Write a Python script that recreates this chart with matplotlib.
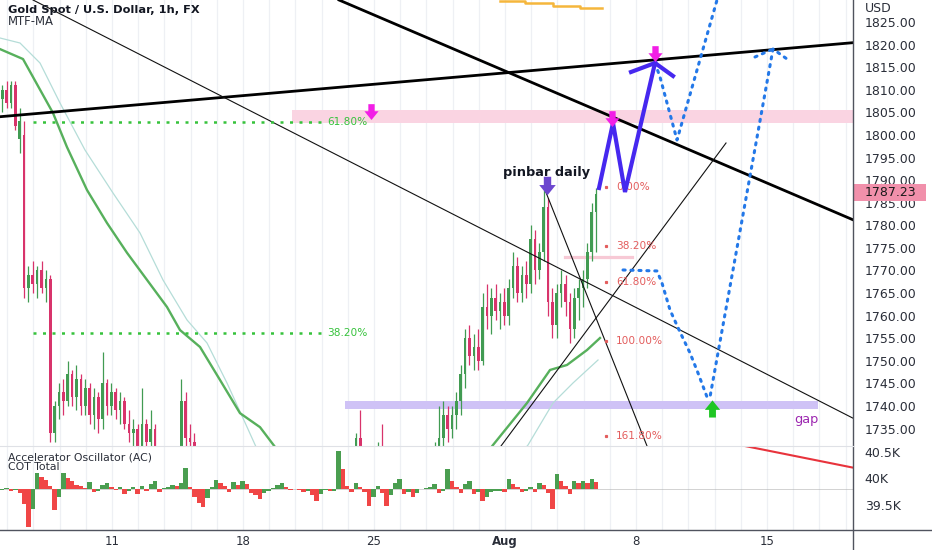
import numpy as np
import matplotlib
matplotlib.use("Agg")
import matplotlib.pyplot as plt
from matplotlib.path import Path
from matplotlib.patches import Rectangle
from matplotlib.lines import Line2D
import matplotlib.transforms as mtrans

# ---------------- data ----------------
# x axis: trading-day index, day 0 = Mon 11 Jul (4h bars, 6 per day)
bar_start = -4.19
bar_step = 1 / 6
opens = [1808,1810,1807,1811,1799,1800,1766,1769,1767,1770,1766,1768,1734,1740,1743,1741,1747,1742,1746,1740,
         1744,1738,1742,1737,1745,1740,1743,1739,1741,1736,1734,1735,1731,1736,1732,1735,1729,1726,1724,1723,
         1721,1719,1741,1733,1732,1726,1718,1710,1702,1705,1707,1709,1706,1708,1710,1714,1718,1715,1711,1708,
         1704,1706,1701,1698,1693,1688,1684,1688,1695,1703,1710,1717,1722,1725,1727,1720,1716,1718,1719,1722,
         1720,1724,1733,1726,1721,1719,1717,1730,1723,1719,1716,1718,1715,1717,1720,1718,1721,1723,1725,1728,
         1731,1733,1738,1735,1738,1741,1747,1755,1751,1753,1750,1762,1760,1764,1761,1763,1760,1766,1771,1765,
         1769,1767,1777,1770,1774,1784,1763,1758,1765,1767,1763,1757,1764,1766,1768,1774,1783]
highs = [1811,1812,1812,1812,1806,1803,1771,1772,1771,1772,1770,1769,1741,1745,1746,1750,1748,1749,1747,1746,
         1745,1744,1743,1752,1746,1745,1744,1743,1742,1739,1737,1736,1744,1737,1739,1736,1731,1729,1728,1727,
         1725,1746,1743,1736,1734,1728,1722,1713,1708,1710,1712,1714,1711,1713,1716,1720,1723,1719,1714,1712,
         1709,1710,1705,1702,1697,1692,1690,1697,1705,1712,1719,1725,1728,1730,1729,1724,1721,1723,1725,1727,
         1726,1734,1739,1730,1725,1723,1732,1736,1727,1723,1721,1722,1720,1722,1724,1723,1726,1728,1730,1732,
         1740,1741,1740,1740,1743,1749,1757,1758,1756,1757,1765,1767,1766,1767,1765,1766,1768,1774,1773,1771,
         1772,1780,1779,1776,1787.8,1786,1766,1767,1770,1769,1765,1766,1768,1770,1776,1785,1788.3]
lows = [1805,1806,1806,1801,1796,1764,1763,1765,1764,1765,1763,1732,1732,1737,1738,1740,1740,1739,1738,1738,
        1736,1735,1734,1735,1738,1738,1737,1736,1735,1732,1731,1729,1730,1730,1730,1728,1724,1722,1720,1719,
        1717,1718,1731,1730,1724,1716,1708,1698,1697,1701,1703,1705,1702,1704,1707,1710,1712,1708,1705,1702,
        1700,1698,1695,1690,1685,1681,1680,1686,1693,1700,1707,1714,1716,1719,1718,1712,1710,1714,1715,1718,
        1717,1720,1724,1718,1715,1713,1714,1720,1716,1712,1711,1713,1712,1714,1716,1715,1717,1719,1721,1724,
        1729,1731,1732,1733,1735,1738,1744,1749,1748,1748,1749,1757,1756,1759,1757,1758,1758,1764,1763,1763,
        1764,1765,1767,1768,1772,1760,1755,1755,1762,1760,1754,1755,1759,1762,1766,1772,1774]
closes = [1810,1807,1811,1802,1803,1766,1769,1767,1770,1766,1768,1734,1740,1743,1741,1747,1742,1746,1740,1744,
          1738,1742,1737,1745,1740,1743,1739,1741,1736,1734,1735,1731,1736,1732,1735,1729,1726,1724,1723,1721,
          1719,1741,1733,1732,1726,1718,1710,1702,1705,1707,1709,1706,1708,1710,1714,1718,1715,1711,1708,1704,
          1706,1701,1698,1693,1688,1684,1688,1695,1703,1710,1717,1722,1725,1727,1720,1716,1718,1719,1722,1720,
          1724,1733,1726,1721,1719,1717,1730,1723,1719,1716,1718,1715,1717,1720,1718,1721,1723,1725,1728,1731,
          1733,1738,1735,1738,1741,1747,1755,1751,1753,1750,1762,1760,1764,1761,1763,1760,1766,1771,1765,1769,
          1767,1777,1770,1774,1784,1763,1758,1765,1767,1763,1757,1764,1766,1768,1774,1783,1787]
# Accelerator Oscillator (pane units)
ac_values = [-1,1,-2,-1,-4,-15,-38,-20,16,12,9,3,-21,-8,16,11,8,4,3,1,
             7,-3,-2,4,6,2,-1,2,-5,-2,2,-5,3,-2,5,8,-3,1,2,4,
             3,6,21,2,-8,-14,-18,-9,2,9,6,3,-3,7,4,8,5,-4,-6,-10,
             -4,-2,1,4,6,2,-1,0,-1,-3,-2,-6,-12,-5,-1,-2,-2,38,20,3,
             -3,6,2,-3,-17,-8,3,-4,-17,-6,6,10,-5,-3,-8,-4,0,1,2,5,
             -4,-2,20,8,2,-4,5,8,-5,-3,-12,-8,-3,-2,-2,-3,10,5,2,-3,
             -2,2,-3,6,4,-4,-20,15,8,3,-5,8,6,8,6,10,7]
# COT Total (thousands)
cot_days = [22.44, 28.28]
cot_values = [40.774, 40.196]

price_ticks = list(range(1735, 1830, 5))
last_price = 1787.23
cot_ticks = [39.5, 40.0, 40.5]
cot_tick_labels = ["39.5K", "40K", "40.5K"]
date_tick_days = [0, 5, 10, 15, 20, 25]
date_tick_labels = ["11", "18", "25", "Aug", "8", "15"]

# moving averages (MTF-MA)
ma_fast_a_days = [-4.275, -3.397, -2.252, -1.718, -0.954, -0.191, 0.573, 1.336, 2.099, 2.595, 3.359, 4.122, 4.885, 5.649, 6.603]
ma_fast_a_vals = [1819.0, 1816.8, 1804.85, 1797.3, 1787.8, 1780.5, 1773.9, 1767.9, 1761.9, 1756.8, 1753.05, 1745.75, 1738.4, 1735.3, 1728.0]
ma_fast_b_days = [14.05, 14.542, 15.84, 16.718, 17.366, 18.13, 18.626]
ma_fast_b_vals = [1727.6, 1731.35, 1740.65, 1747.96, 1749.07, 1752.38, 1755.04]
ma_slow_a_days = [-4.275, -3.511, -2.748, -1.985, -1.031, 0.038, 1.069, 1.947, 2.863, 3.626, 4.389, 5.153, 5.725]
ma_slow_a_vals = [1821.46, 1820.35, 1815.92, 1807.07, 1796.66, 1787.14, 1778.29, 1767.88, 1759.03, 1753.94, 1745.08, 1735.34, 1728.0]
ma_slow_b_days = [15.38, 15.878, 16.832, 17.595, 18.55]
ma_slow_b_vals = [1728.0, 1731.35, 1740.65, 1745.08, 1750.17]

# orange step line (top)
orange_days = [14.809, 15.763, 16.832, 17.863, 18.702]
orange_vals = [1829.6, 1829.1, 1828.65, 1828.2, 1828.2]

# trend lines (day, price)
thick_lines = [((-4.275, 1804.03), (28.282, 1820.42)),
               ((8.664, 1829.87), (28.282, 1781.21))]
thin_lines = [((-3.015, 1829.87), (28.282, 1737.29)),
              ((14.847, 1731.13), (23.435, 1798.21)),
              ((16.527, 1787.81), (20.42, 1731.13))]

# projected path
zig_days = [18.588, 19.122, 19.58, 20.725]
zig_vals = [1788.25, 1802.64, 1787.36, 1815.92]
cap_days = [19.809, 20.725, 21.412]
cap_vals = [1813.93, 1815.92, 1813.05]
dot1_days = [20.725, 20.916, 21.565, 23.092, 23.206]
dot1_vals = [1815.92, 1812.82, 1798.88, 1829.87, 1832.1]
dot2_days = [19.504, 20.802, 20.992, 21.298, 21.679, 22.061, 22.366, 22.71, 22.824, 25.229, 25.763]
dot2_vals = [1770.1, 1769.88, 1767.2, 1761.24, 1756.37, 1751.72, 1747.3, 1741.98, 1741.98, 1819.02, 1816.81]
dot3_days = [24.542, 25.229]
dot3_vals = [1817.25, 1819.02]

# zones
pink_zone = (6.87, 28.282, 1802.64, 1805.52)
gap_zone = (8.893, 26.947, 1739.26, 1741.16)
pink_line = (17.29, 19.847, 1772.97)

# fibonacci
fib_high, fib_low = 1788.5, 1754.4
fib_ratios = [0.0, 0.382, 0.618, 1.0, 1.618]
fib_labels = ["0.00%", "38.20%", "61.80%", "100.00%", "161.80%"]
fib_label_day = 19.237
fib_dot_day = 18.855
green_fib_vals = [1802.93, 1756.15]
green_fib_labels = ["61.80%", "38.20%"]
green_fib_span = (-3.015, 8.015)
green_label_day = 8.206

# arrows
magenta_days = [9.885, 19.084, 20.725]
magenta_vals = [1805.1, 1803.5, 1817.9]
pinbar_day, pinbar_val = 16.603, 1788.6
green_arrow_day, green_arrow_val = 22.901, 1739.6

# ---------------- figure ----------------
W, H = 932, 550
fig = plt.figure(figsize=(W / 100, H / 100), dpi=100)
fig.patch.set_facecolor("white")

def px_rect(x0, y0, x1, y1):
    return [x0 / W, 1 - y1 / H, (x1 - x0) / W, (y1 - y0) / H]

ax = fig.add_axes(px_rect(0, 0, 853, 446))
axl = fig.add_axes(px_rect(0, 446, 853, 530))
axc = axl.twinx()

xlim = (-4.275, 28.282)
for a in (ax, axl, axc):
    a.set_xlim(*xlim)
    for s in a.spines.values():
        s.set_visible(False)
ax.set_ylim(1731.13, 1829.87)
axl.set_ylim(-41, 43)
axc.set_ylim(39.019, 40.604)

grid_c = "#eef0f4"
all_days = np.arange(-4, 29)
ax.set_xticks(all_days)
ax.tick_params(axis="x", length=0, labelbottom=False)
ax.grid(axis="x", color=grid_c, lw=0.9)
ax.set_axisbelow(True)
axl.set_xticks(all_days, minor=True)
axl.set_xticks(date_tick_days)
axl.set_xticklabels(date_tick_labels)
axl.tick_params(axis="x", which="both", length=0, pad=3.5, labelsize=8.5, labelcolor="#2a2e39")
axl.grid(axis="x", which="both", color=grid_c, lw=0.9)
axl.set_axisbelow(True)
for t in axl.get_xticklabels():
    if t.get_text() == "Aug":
        t.set_fontweight("bold")
axl.set_yticks([])

ax.yaxis.tick_right()
ax.set_yticks(price_ticks)
ax.set_yticklabels([f"{v:.2f}" for v in price_ticks])
ax.tick_params(axis="y", length=0, pad=8.5, labelsize=9, labelcolor="#2a2e39")
axc.set_yticks(cot_ticks)
axc.set_yticklabels(cot_tick_labels)
axc.tick_params(axis="y", length=0, pad=8.5, labelsize=9, labelcolor="#2a2e39")

# zones
ax.add_patch(Rectangle((pink_zone[0], pink_zone[2]), pink_zone[1] - pink_zone[0], pink_zone[3] - pink_zone[2],
                       facecolor="#fad4e2", edgecolor="none", zorder=1))
ax.add_patch(Rectangle((gap_zone[0], gap_zone[2]), gap_zone[1] - gap_zone[0], gap_zone[3] - gap_zone[2],
                       facecolor="#cfc2f6", edgecolor="none", zorder=1))
ax.plot([pink_line[0], pink_line[1]], [pink_line[2]] * 2, color="#f7c9d5", lw=2.3, zorder=1)

# candles
o = np.array(opens, float); h = np.array(highs, float); l = np.array(lows, float); c = np.array(closes, float)
xb = bar_start + bar_step * np.arange(len(o))
green_c, red_c = "#419b52", "#d8336b"
cols = [green_c if cc >= oo else red_c for oo, cc in zip(o, c)]
ax.vlines(xb, l, h, colors=cols, lw=0.9, zorder=2)
ax.bar(xb, np.maximum(np.abs(c - o), 0.4), bottom=np.minimum(o, c), width=0.1, color=cols, zorder=2)

# moving averages
ax.plot(ma_slow_a_days, ma_slow_a_vals, color="#b5ddd8", lw=0.9, zorder=3)
ax.plot(ma_slow_b_days, ma_slow_b_vals, color="#b5ddd8", lw=0.9, zorder=3)
ax.plot(ma_fast_a_days, ma_fast_a_vals, color="#57b05c", lw=1.7, zorder=3)
ax.plot(ma_fast_b_days, ma_fast_b_vals, color="#57b05c", lw=1.7, zorder=3)
ax.plot(orange_days, orange_vals, color="#f5b63c", lw=1.8, drawstyle="steps-post", zorder=3)

# trend lines
for (p0, p1) in thick_lines:
    ax.plot([p0[0], p1[0]], [p0[1], p1[1]], color="#000000", lw=2.0, zorder=4)
for (p0, p1) in thin_lines:
    ax.plot([p0[0], p1[0]], [p0[1], p1[1]], color="#111111", lw=0.8, zorder=4)

# green fib levels
for v, lab in zip(green_fib_vals, green_fib_labels):
    ax.plot(green_fib_span, [v, v], color="#36c23c", lw=1.8, linestyle=(0, (1.2, 2.6)), zorder=4)
    ax.text(green_label_day, v, lab, color="#36c23c", fontsize=7.6, va="center", ha="left", zorder=6)

# red fib labels
for r, lab in zip(fib_ratios, fib_labels):
    lvl = fib_high - r * (fib_high - fib_low)
    ax.plot([fib_dot_day], [lvl], marker="s", ms=1.3, color="#e35d5d", zorder=5)
    ax.text(fib_label_day, lvl, lab, color="#e35d5d", fontsize=7.6, va="center", ha="left", zorder=5)

# projected paths
dot_style = dict(color="#2378e8", lw=2.2, linestyle=(0, (0.7, 1.9)), dash_capstyle="round", zorder=5)
ax.plot(dot1_days, dot1_vals, **dot_style)
ax.plot(dot2_days, dot2_vals, **dot_style)
ax.plot(dot3_days, dot3_vals, **dot_style)
ax.plot(zig_days, zig_vals, color="#4628ef", lw=3.0, solid_joinstyle="miter", zorder=6)
ax.plot(cap_days, cap_vals, color="#4628ef", lw=3.0, zorder=6)

# arrows
codes = [Path.MOVETO] + [Path.LINETO] * 6 + [Path.CLOSEPOLY]
down_v = [(-0.38, 1), (0.38, 1), (0.38, 0.15), (0.85, 0.15), (0, -0.9), (-0.85, 0.15), (-0.38, 0.15), (0, 0)]
down_arrow = Path(down_v, codes)
up_arrow = Path([(x, -y) for x, y in down_v], codes)
ax.plot(magenta_days, magenta_vals, linestyle="none", marker=down_arrow, ms=12, color="#f21ee6", mec="none", zorder=7)
ax.plot([pinbar_day], [pinbar_val], linestyle="none", marker=down_arrow, ms=14, color="#6c47cf", mec="none", zorder=7)
ax.plot([green_arrow_day], [green_arrow_val], linestyle="none", marker=up_arrow, ms=13, color="#1fc624", mec="none", zorder=7)

# texts
ax.text(pinbar_day, 1791.6, "pinbar daily", fontsize=9.3, fontweight="bold", ha="center", va="center", color="#131722", zorder=8)
ax.text(26.489, 1737.1, "gap", fontsize=9.3, ha="center", va="center", color="#9c27b0", zorder=8)

# last price label
bt = mtrans.blended_transform_factory(ax.transAxes, ax.transData)
ax.add_patch(Rectangle((1.0, last_price - 1.8), 73 / 853, 3.6, transform=bt, clip_on=False,
                       facecolor="#f190ab", edgecolor="none", zorder=9))
ax.text(1.0 + 12 / 853, last_price, f"{last_price:.2f}", transform=bt, fontsize=9, va="center", ha="left",
        color="#1a1a1a", zorder=10, clip_on=False)

# lower pane
acv = np.array(ac_values, float)
ac_cols = [green_c if (i == 0 or acv[i] >= acv[i - 1]) else "#f04646" for i in range(len(acv))]
axl.bar(xb, acv, width=bar_step, color=[("#4a9e50" if cc == green_c else cc) for cc in ac_cols], zorder=2)
axl.axhline(0, color="#b0b0b0", lw=0.4, zorder=1)
axc.plot(cot_days, cot_values, color="#e8333c", lw=1.5, zorder=3)

fig.text(8 / W, 1 - 457 / H, "Accelerator Oscillator (AC)", fontsize=7.8, color="#2a2e39", va="center")
fig.text(8 / W, 1 - 467.5 / H, "COT Total", fontsize=7.8, color="#2a2e39", va="center")
fig.text(8 / W, 1 - 10 / H, "Gold Spot / U.S. Dollar, 1h, FX", fontsize=8.2, fontweight="bold", color="#131722", va="center")
fig.text(8 / W, 1 - 21.5 / H, "MTF-MA", fontsize=8.4, color="#2a2e39", va="center")
fig.text(865 / W, 1 - 9 / H, "USD", fontsize=9, color="#2a2e39", va="center")

# frame lines
fig.add_artist(Line2D([853 / W, 853 / W], [0, 1], color="#50535e", lw=1.0))
fig.add_artist(Line2D([0, 1], [1 - 530 / H] * 2, color="#50535e", lw=1.0))
fig.add_artist(Line2D([0, 853 / W], [1 - 446 / H] * 2, color="#dfe1e6", lw=0.8))

fig.savefig("out.png", dpi=100)
